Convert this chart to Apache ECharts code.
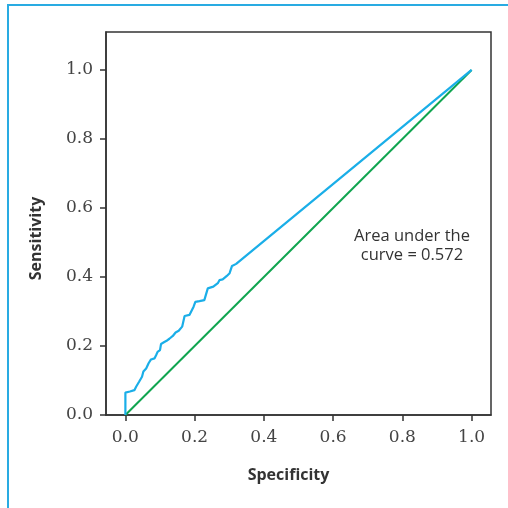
<!DOCTYPE html>
<html>
<head>
<meta charset="utf-8">
<script src="https://cdn.jsdelivr.net/npm/echarts@6/dist/echarts.min.js"></script>
<style>
  html, body { margin: 0; padding: 0; background: #fff; }
  #chart { width: 508px; height: 508px; }
</style>
</head>
<body>
<div id="chart"></div>
<script>
// ROC curve: x = specificity axis value, y = sensitivity
const rocX = [0, 0, 0.013, 0.026, 0.031, 0.040, 0.048, 0.052, 0.060, 0.067, 0.074, 0.084, 0.089, 0.093, 0.100, 0.103, 0.110, 0.119, 0.127, 0.137, 0.145, 0.154, 0.164, 0.171, 0.185, 0.190, 0.197, 0.202, 0.214, 0.228, 0.238, 0.254, 0.267, 0.272, 0.281, 0.293, 0.301, 0.308, 0.320, 1.0];
const rocY = [0, 0.065, 0.068, 0.072, 0.082, 0.097, 0.111, 0.126, 0.135, 0.150, 0.161, 0.164, 0.174, 0.183, 0.188, 0.206, 0.210, 0.215, 0.221, 0.229, 0.239, 0.244, 0.256, 0.287, 0.290, 0.295, 0.314, 0.328, 0.330, 0.333, 0.367, 0.372, 0.382, 0.391, 0.393, 0.403, 0.411, 0.432, 0.438, 1.0];
// Reference diagonal (chance line)
const diagX = [0, 1];
const diagY = [0, 1];
const tickValues = [0, 0.2, 0.4, 0.6, 0.8, 1.0];
const aucText = ['Area under the', 'curve = 0.572'];

const rocData = rocX.map((x, i) => [x, rocY[i]]);
const diagData = diagX.map((x, i) => [x, diagY[i]]);

const chart = echarts.init(document.getElementById('chart'), null, { renderer: 'canvas' });
const axisColor = '#333';
const tickFont = { fontFamily: 'DejaVu Serif', fontSize: 17, color: '#444' };

chart.setOption({
  animation: false,
  backgroundColor: '#fff',
  grid: {
    left: 106, top: 32, right: 17, bottom: 93,
    show: true, borderColor: axisColor, borderWidth: 1.5, backgroundColor: 'transparent'
  },
  xAxis: {
    type: 'value', min: -0.056, max: 1.056,
    name: 'Specificity', nameLocation: 'middle', nameGap: 52,
    nameTextStyle: { fontFamily: 'Open Sans', fontWeight: 'bold', fontSize: 16, color: '#333', padding: [0, 20, 0, 0] },
    axisLine: { show: true, onZero: false, lineStyle: { color: axisColor, width: 1.5 } },
    axisTick: { show: true, length: 6, inside: false, customValues: tickValues, lineStyle: { color: axisColor, width: 1.5 } },
    axisLabel: { customValues: tickValues, margin: 14, formatter: v => v.toFixed(1), ...tickFont },
    splitLine: { show: false }
  },
  yAxis: {
    type: 'value', min: 0, max: 1.11,
    name: 'Sensitivity', nameLocation: 'middle', nameGap: 62,
    nameTextStyle: { fontFamily: 'Open Sans', fontWeight: 'bold', fontSize: 16, color: '#333', padding: [0, 30, 0, 0] },
    axisLine: { show: true, onZero: false, lineStyle: { color: axisColor, width: 1.5 } },
    axisTick: { show: true, length: 6, inside: false, customValues: tickValues, lineStyle: { color: axisColor, width: 1.5 } },
    axisLabel: { customValues: tickValues, margin: 13, formatter: v => v.toFixed(1), ...tickFont },
    splitLine: { show: false }
  },
  graphic: [
    {
      type: 'polyline', silent: true,
      shape: { points: [[8, 508], [8, 5], [508, 5]] },
      style: { stroke: '#29abe2', lineWidth: 2, fill: null }
    },
    {
      type: 'text', x: 412, y: 227, silent: true,
      style: {
        text: aucText.join('\n'), fontFamily: 'Open Sans', fontSize: 16.5,
        fill: '#333', align: 'center', verticalAlign: 'top', lineHeight: 19
      }
    }
  ],
  series: [
    {
      type: 'line', data: diagData, showSymbol: false,
      lineStyle: { color: '#10a550', width: 2 }, z: 2
    },
    {
      type: 'line', data: rocData, showSymbol: false,
      lineStyle: { color: '#1aaee8', width: 2.2 }, z: 3
    }
  ]
});
</script>
</body>
</html>
